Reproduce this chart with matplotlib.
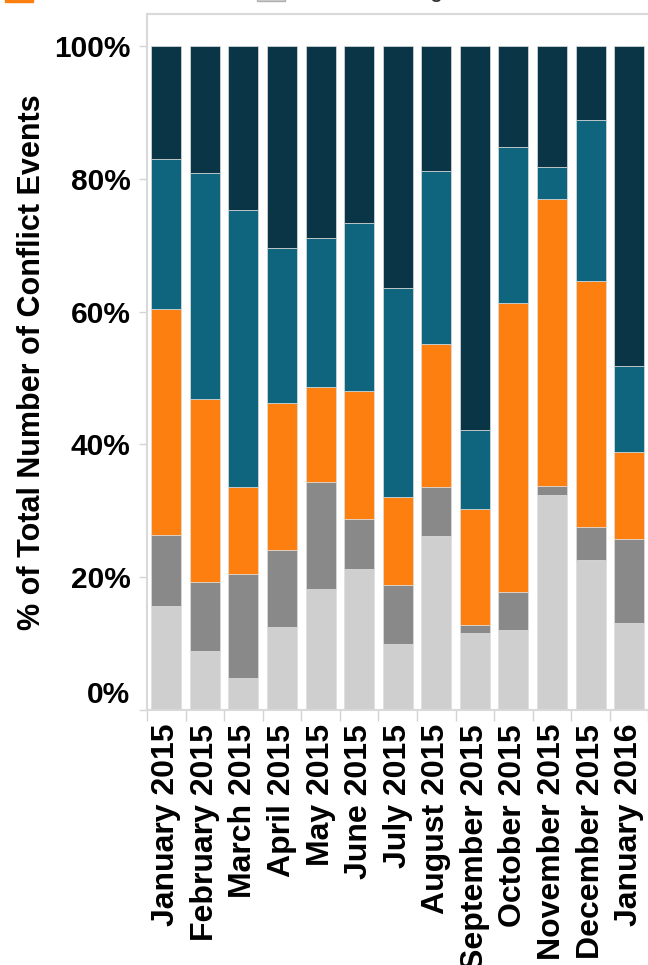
import matplotlib
matplotlib.use("Agg")
import matplotlib.pyplot as plt
import matplotlib.transforms as mtransforms
import numpy as np

months = ["January 2015", "February 2015", "March 2015", "April 2015", "May 2015",
          "June 2015", "July 2015", "August 2015", "September 2015", "October 2015",
          "November 2015", "December 2015", "January 2016"]

# segment shares (%) from bottom to top
light_grey = [15.7, 8.9, 4.8, 12.5, 18.2, 21.3, 9.9, 26.2, 11.6, 12.1, 32.3, 22.6, 13.1]
dark_grey = [10.7, 10.4, 15.7, 11.6, 16.2, 7.5, 8.9, 7.4, 1.2, 5.7, 1.5, 5.0, 12.7]
orange = [34.0, 27.5, 13.1, 22.2, 14.2, 19.2, 13.2, 21.5, 17.4, 43.5, 43.2, 37.0, 13.1]
teal = [22.5, 34.0, 41.7, 23.3, 22.4, 25.4, 31.6, 26.1, 11.9, 23.4, 4.7, 24.3, 12.9]
dark_teal = [17.1, 19.2, 24.7, 30.4, 29.0, 26.6, 36.4, 18.8, 57.9, 15.3, 18.3, 11.1, 48.2]

y_ticks = [0, 20, 40, 60, 80, 100]
y_tick_labels = ["0%", "20%", "40%", "60%", "80%", "100%"]

series = [light_grey, dark_grey, orange, teal, dark_teal]
colors = ["#cfcfcf", "#898989", "#fd7f10", "#0e657d", "#0a3546"]

plt.rcParams['font.family'] = ['Liberation Sans', 'DejaVu Sans']

fig = plt.figure(figsize=(6.48, 9.65), dpi=100)
ax = fig.add_axes([147 / 648, 255 / 965, 501.4 / 648, 696 / 965])

x = np.arange(len(months))
bottom = np.zeros(len(months))
for vals, c in zip(series, colors):
    vals = np.array(vals)
    ax.bar(x, vals, bottom=bottom, width=0.78, color=c, edgecolor='#dedede',
           linewidth=0.5)
    bottom += vals

ax.set_xlim(-0.5, len(months) - 0.5)
ax.set_ylim(0, 104.8)

ax.set_yticks(y_ticks)
ax.set_yticklabels(y_tick_labels, fontsize=21.5, fontweight='bold')
ax.set_xticks(x)
ax.set_xticklabels(months, rotation=90, fontsize=23, fontweight='bold')
ax.set_xticks(np.arange(-0.5, len(months)), minor=True)
ax.tick_params(axis='x', which='major', length=0, pad=10)
ax.tick_params(axis='x', which='minor', length=8, color='#d4d4d4', width=1)
ax.tick_params(axis='y', which='major', length=6, color='#d4d4d4', width=1, pad=6)

# 0% label sits inside the pane
for lab in ax.get_yticklabels():
    if lab.get_text() == "0%":
        lab.set_transform(lab.get_transform() +
                          mtransforms.ScaledTranslation(0, 18 / 100, fig.dpi_scale_trans))

for side in ['left', 'top', 'bottom']:
    ax.spines[side].set_color('#d9d9d9')
    ax.spines[side].set_linewidth(1.5)
ax.spines['right'].set_visible(False)

ax.set_ylabel("% of Total Number of Conflict Events", fontsize=22, fontweight='bold',
              labelpad=5)

# clipped legend row at the very top
fig.patches.append(plt.Rectangle((5 / 648, 963 / 965), 28 / 648, 10 / 965,
                                 transform=fig.transFigure, color='#fd7f10'))
fig.patches.append(plt.Rectangle((257 / 648, 964 / 965), 28 / 648, 10 / 965,
                                 transform=fig.transFigure, facecolor='#cfcfcf',
                                 edgecolor='#b0b0b0', linewidth=1))
fig.text(43 / 648, 967 / 965, "Remote violence", fontsize=14, fontweight='bold',
         va='baseline', ha='left', color='#333333')
leg2 = fig.text(293 / 648, 967.5 / 965, "Battle-No change of territory", fontsize=14,
                fontweight='bold', va='baseline', ha='left', color='#333333')
leg2.set_clip_box(mtransforms.Bbox.from_extents(0, 0, 445, 965))
leg2.set_clip_on(True)

fig.savefig("out.png", dpi=100)
